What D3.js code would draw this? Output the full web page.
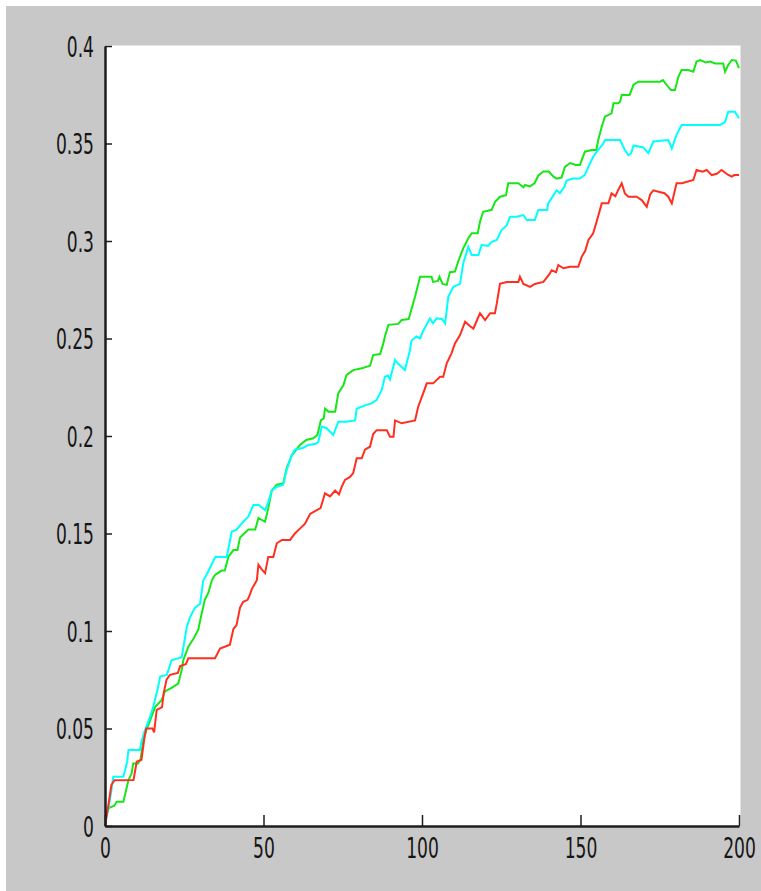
<!DOCTYPE html>
<html>
<head>
<meta charset="utf-8">
<script src="https://cdn.jsdelivr.net/npm/d3@7"></script>
<style>
  html, body { margin: 0; padding: 0; background: #ffffff; }
  svg { display: block; }
  .tick text { font-family: "Liberation Sans Narrow", "DejaVu Sans Condensed", sans-serif; font-size: 28px; fill: #151515; }
</style>
</head>
<body>
<svg id="chart" width="761" height="891"></svg>
<script>
// Axis ticks and labels
const xTicks = [0, 50, 100, 150, 200];
const xTickLabels = ["0", "50", "100", "150", "200"];
const yTicks = [0, 0.05, 0.1, 0.15, 0.2, 0.25, 0.3, 0.35, 0.4];
const yTickLabels = ["0", "0.05", "0.1", "0.15", "0.2", "0.25", "0.3", "0.35", "0.4"];

// Series values as [step, value]
const redSeries = [
  [0,0],[1,0.01],[2,0.021],[3,0.0235],[9,0.0236],[10,0.033],[11.5,0.034],[12.5,0.046],[13,0.05],
  [15,0.05],[15.5,0.048],[16.3,0.0595],[18,0.061],[18.5,0.068],[19.4,0.075],[20.5,0.0775],[23,0.0785],
  [23.7,0.082],[25.5,0.083],[26.3,0.086],[34.7,0.086],[36.3,0.091],[39.4,0.093],[40.5,0.101],[41.5,0.103],
  [42.6,0.112],[43.6,0.115],[45,0.116],[45.7,0.1186],[46.3,0.1215],[47.9,0.126],[48.4,0.134],[49.5,0.1315],
  [50.5,0.1297],[51.5,0.138],[53.1,0.138],[54.2,0.145],[55.8,0.1467],[58.4,0.1467],[59.9,0.15],[61.5,0.1525],
  [63.1,0.155],[64.7,0.16],[66.8,0.162],[68,0.163],[69.4,0.1706],[71,0.169],[72.6,0.172],[73.8,0.170],
  [74.7,0.174],[75.7,0.1775],[77.3,0.179],[78.3,0.181],[79.4,0.1886],[81,0.1886],[82,0.193],[83.6,0.1945],
  [84.6,0.201],[85.7,0.203],[88.9,0.203],[89.9,0.1996],[91,0.1996],[91.5,0.208],[93.6,0.2065],[97.8,0.208],
  [98.8,0.215],[100.4,0.222],[101.5,0.227],[103.5,0.227],[105.7,0.2304],[106.7,0.2304],[107.8,0.2373],
  [109.3,0.2424],[110.4,0.2475],[112,0.2518],[113.6,0.2586],[115,0.2565],[116.2,0.255],[117.5,0.26],
  [118.3,0.263],[119.9,0.2595],[121.5,0.263],[123,0.263],[123.6,0.268],[124.6,0.278],[126.7,0.279],
  [130.4,0.279],[130.9,0.2817],[132,0.278],[134.1,0.2765],[135.6,0.278],[138.3,0.279],[140.2,0.283],
  [140.9,0.285],[142.3,0.284],[143,0.2877],[144.6,0.286],[146.7,0.2868],[149.3,0.2868],[150.4,0.292],
  [151.5,0.295],[152.5,0.3005],[154,0.304],[155.1,0.31],[156.7,0.3193],[158.8,0.3193],[159.8,0.3244],
  [161,0.323],[161.9,0.3262],[163,0.3296],[164,0.3244],[165.1,0.3227],[167.7,0.3227],[169.3,0.321],
  [170.9,0.3176],[172,0.324],[173,0.326],[174.6,0.3253],[176.5,0.3245],[177.7,0.3227],[178.8,0.3193],
  [180.3,0.3296],[182,0.3296],[185.6,0.3313],[186.6,0.3364],[188.5,0.3355],[189.8,0.3364],[191.4,0.3338],
  [193,0.3345],[194.5,0.3364],[196.5,0.334],[197.7,0.333],[198.5,0.3338],[200,0.3338]
];

const cyanSeries = [
  [0,0.002],[1,0.008],[2,0.018],[2.6,0.0253],[5.8,0.0253],[7,0.033],[7.4,0.039],[11,0.039],[11.6,0.044],
  [12.6,0.049],[14.2,0.056],[15.2,0.061],[16.8,0.0715],[17.4,0.0766],[19.5,0.0775],[21,0.085],[24.2,0.0865],
  [25.8,0.102],[26.8,0.107],[28.4,0.112],[30,0.114],[31,0.126],[32.1,0.129],[34.2,0.136],[34.8,0.138],
  [38.4,0.138],[40,0.151],[41.5,0.152],[43.6,0.156],[45.2,0.1586],[46.8,0.1646],[48.5,0.1646],[50.5,0.162],
  [51.5,0.166],[52.6,0.172],[54.2,0.174],[56.2,0.175],[57.3,0.1826],[58.9,0.19],[59.9,0.193],[62.6,0.194],
  [64.1,0.1954],[66.5,0.196],[67.3,0.197],[68.4,0.2048],[69.9,0.204],[72,0.2005],[73.6,0.2073],[76,0.2073],
  [78.9,0.208],[79.4,0.214],[82,0.2157],[84.1,0.2167],[85.7,0.2185],[87.3,0.2236],[88.3,0.2304],[89.3,0.231],
  [89.9,0.229],[91.5,0.239],[92.5,0.237],[94.6,0.2338],[96.2,0.244],[96.7,0.249],[98.3,0.251],[99.4,0.25],
  [100.4,0.254],[102.5,0.2603],[103.5,0.2578],[104.6,0.2603],[106.3,0.26],[107.3,0.2578],[108.3,0.2714],
  [109.9,0.2765],[112,0.278],[113,0.2885],[114.6,0.297],[115.7,0.2928],[117.8,0.2928],[118.8,0.298],
  [120.8,0.2975],[122,0.2996],[123.6,0.3005],[125.1,0.3056],[126.7,0.308],[127.8,0.3125],[129.9,0.3125],
  [132,0.3133],[133,0.3108],[135.6,0.3108],[136.7,0.3159],[139.5,0.3159],[139.8,0.3193],[140.9,0.322],
  [142.5,0.326],[143.5,0.3245],[145,0.328],[145.6,0.331],[147.7,0.332],[149.8,0.332],[151.4,0.334],
  [152.5,0.338],[154,0.3432],[155.6,0.3467],[157.2,0.35],[157.7,0.3518],[162.5,0.3518],[164,0.3467],
  [165.1,0.344],[166,0.345],[166.7,0.349],[169.8,0.348],[171.4,0.345],[173,0.351],[177.7,0.3518],
  [178.8,0.3475],[180.3,0.3544],[181.9,0.3595],[194,0.3595],[195.6,0.361],[196.6,0.3663],[198.7,0.3663],
  [200,0.3629]
];

const greenSeries = [
  [0,0.004],[1,0.009],[3,0.0105],[3.7,0.0125],[5.8,0.0125],[7.4,0.0236],[8.4,0.027],[8.9,0.032],[10.4,0.032],
  [11.2,0.034],[12.1,0.044],[13,0.049],[14.2,0.054],[15.8,0.061],[17.9,0.0646],[18.9,0.069],[21,0.0708],
  [23.1,0.073],[24.2,0.08],[24.7,0.085],[26.3,0.092],[27.9,0.096],[29.4,0.1005],[30.5,0.109],[31.5,0.116],
  [32.6,0.1195],[33.7,0.126],[34.7,0.1287],[36.8,0.131],[37.8,0.131],[38.9,0.138],[40.5,0.1415],[41.8,0.1415],
  [42.6,0.148],[45.2,0.152],[47.4,0.152],[48.4,0.158],[50.5,0.156],[51.5,0.163],[52.6,0.172],[54.2,0.175],
  [56.2,0.1757],[57.3,0.1834],[58.9,0.19],[59.9,0.192],[61.5,0.1954],[63.5,0.198],[65.7,0.1988],[67,0.2005],
  [68.1,0.208],[69,0.209],[69.4,0.214],[70.5,0.2125],[72.6,0.2125],[73.6,0.222],[75.2,0.226],[76.2,0.2313],
  [78.3,0.2338],[81,0.2347],[83.6,0.236],[84.6,0.2415],[86.8,0.242],[87.8,0.2475],[88.3,0.251],[89.4,0.257],
  [92.5,0.2575],[93.6,0.2595],[95.8,0.26],[96.5,0.264],[97.8,0.2714],[99.4,0.2817],[103,0.2817],[103.5,0.279],
  [105,0.2795],[105.5,0.2817],[106.5,0.278],[107.8,0.2775],[108.8,0.284],[110.4,0.2843],[111.4,0.2894],
  [113,0.2962],[114.6,0.3014],[115.7,0.304],[117.6,0.304],[118.3,0.31],[119.3,0.315],[122,0.316],[123,0.32],
  [124.6,0.3227],[126.5,0.3235],[127.2,0.3296],[130.4,0.3296],[132,0.3275],[132.5,0.3287],[134,0.328],
  [135.5,0.3296],[136.7,0.3336],[138.3,0.3356],[140,0.3356],[141.5,0.333],[142.5,0.332],[144,0.3325],
  [145.1,0.338],[146.7,0.34],[148.5,0.339],[149.8,0.339],[151.4,0.3458],[153.5,0.3467],[155,0.3467],
  [155.6,0.3518],[156.7,0.3586],[157.7,0.3638],[159.8,0.3655],[160.4,0.3706],[161.9,0.3706],[162.5,0.3715],
  [163,0.3749],[165.5,0.3749],[166.7,0.38],[168.2,0.3817],[175.1,0.3817],[176,0.3825],[177.2,0.38],
  [178.5,0.3774],[179.8,0.3774],[180.9,0.3843],[181.9,0.3877],[184,0.3877],[185.6,0.3868],[186.6,0.392],
  [187.8,0.3928],[189.5,0.3915],[190.9,0.392],[192.5,0.391],[195,0.391],[195.6,0.3868],[196.5,0.39],
  [197.7,0.3928],[199,0.3925],[200,0.3886]
];

const seriesList = [
  { values: greenSeries, color: "#17e617" },
  { values: cyanSeries,  color: "#00ffff" },
  { values: redSeries,   color: "#ff2f20" }
];

const svg = d3.select("#chart");
const W = 761, H = 891;
const plot = { left: 105, right: 740, top: 46, bottom: 826 };

// Figure background
svg.append("rect").attr("x", 6).attr("y", 6).attr("width", W - 6).attr("height", H - 6).attr("fill", "#c8c8c8");

// Axes area
svg.append("rect")
  .attr("x", plot.left).attr("y", plot.top)
  .attr("width", plot.right - plot.left).attr("height", plot.bottom - plot.top)
  .attr("fill", "#ffffff");
svg.append("path")
  .attr("d", `M${plot.left},${plot.top - 0.5}H${plot.right + 0.5}V${plot.bottom}`)
  .attr("fill", "none").attr("stroke", "#e4e4e4").attr("stroke-width", 1);

const x = d3.scaleLinear().domain([0, 200]).range([plot.left, plot.right - 1]);
const y = d3.scaleLinear().domain([0, 0.4]).range([plot.bottom, plot.top]);

const line = d3.line().x(d => x(d[0])).y(d => y(d[1])).curve(d3.curveLinear);

svg.append("g").selectAll("path")
  .data(seriesList)
  .join("path")
  .attr("d", d => line(d.values))
  .attr("fill", "none")
  .attr("stroke", d => d.color)
  .attr("stroke-width", 2)
  .attr("stroke-linejoin", "miter");

// Y axis, ticks pointing inward
const yAxis = d3.axisLeft(y)
  .tickValues(yTicks)
  .tickFormat((d, i) => yTickLabels[i])
  .tickSizeInner(-7)
  .tickSizeOuter(0);
const gy = svg.append("g").attr("transform", `translate(${plot.left},0)`).call(yAxis);
gy.selectAll(".tick text")
  .attr("x", 0).attr("dy", null)
  .attr("text-anchor", "end")
  .attr("transform", "translate(-11,10) scale(0.68,1)");

// X axis, ticks pointing inward
const xAxis = d3.axisBottom(x)
  .tickValues(xTicks)
  .tickFormat((d, i) => xTickLabels[i])
  .tickSizeInner(-11)
  .tickSizeOuter(0);
const gx = svg.append("g").attr("transform", `translate(0,${plot.bottom})`).call(xAxis);
gx.selectAll(".tick text")
  .attr("y", 0).attr("dy", null)
  .attr("text-anchor", "middle")
  .attr("transform", "translate(0,32) scale(0.68,1)");

[gx, gy].forEach(g => {
  g.select(".domain").attr("stroke", "#1e1e1e").attr("stroke-width", 2.5);
  g.selectAll(".tick line").attr("stroke", "#1e1e1e").attr("stroke-width", 1.5);
});
</script>
</body>
</html>
